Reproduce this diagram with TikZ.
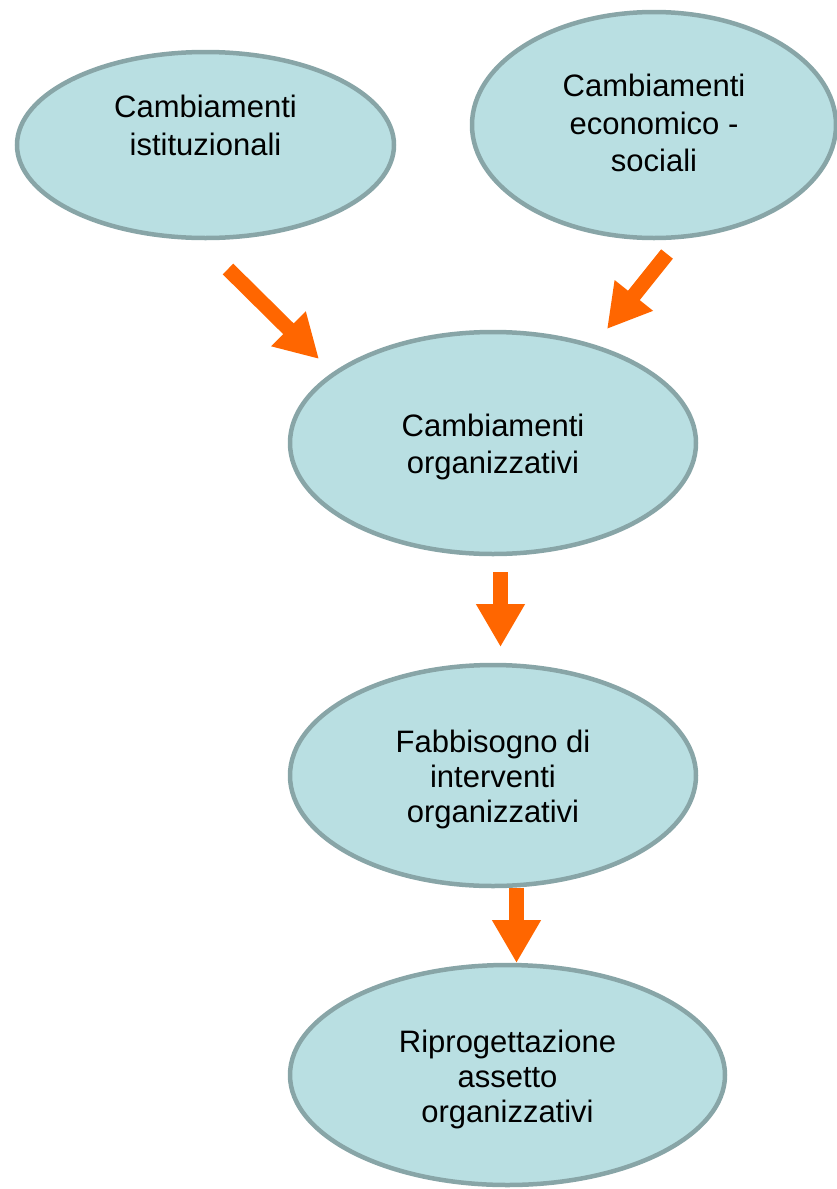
\documentclass[tikz,border=0pt]{standalone}
\usepackage{fontspec}
\setmainfont{Liberation Sans}
\usetikzlibrary{shapes.geometric,arrows.meta}
\definecolor{cellfill}{HTML}{B9DFE2}
\definecolor{celledge}{HTML}{88A5A7}
\definecolor{flow}{HTML}{FF6600}
\begin{document}
\begin{tikzpicture}[x=1pt,y=-1pt,
  cell/.style={ellipse,draw=celledge,fill=cellfill,line width=4.5pt,inner sep=0pt},
  celltext/.style={inner sep=0pt,align=center,font=\fontsize{31}{#1}\selectfont},
  celltext/.default=37.5,
  flowarrow/.style={draw=flow,line width=15pt,
    -{Triangle[length=43pt,width=46pt]}}]
  \useasboundingbox (0,0) rectangle (836,1189);
  % the five stages
  \node[cell,minimum width=377pt,minimum height=186pt] (ist) at (205.5,145) {};
  \node[cell,minimum width=364pt,minimum height=226pt] (eco) at (654,125) {};
  \node[cell,minimum width=406pt,minimum height=222pt] (org) at (493,443) {};
  \node[cell,minimum width=406pt,minimum height=221pt] (fab) at (493,775.5) {};
  \node[cell,minimum width=435pt,minimum height=220pt] (rip) at (507.5,1075) {};
  % their texts
  \node[celltext=38] (istt) at ([yshift=20pt]ist.center)
    {Cambiamenti\\istituzionali};
  \node[celltext=37.5] (ecot) at ([yshift=2pt]eco.center)
    {Cambiamenti\\economico -\\sociali};
  \node[celltext=37] (orgt) at ([yshift=-3.5pt]org.center)
    {Cambiamenti\\organizzativi};
  \node[celltext=35] (fabt) at ([yshift=-3.5pt]fab.center)
    {Fabbisogno di\\interventi\\organizzativi};
  \node[celltext=35] (ript) at ([yshift=-4pt]rip.center)
    {Riprogettazione\\assetto\\organizzativi};
  % arrow end points between the stages
  \coordinate (a1s) at (228,269);
  \coordinate (a1e) at (319,359);
  \coordinate (a2s) at (667,254);
  \coordinate (a2e) at (607,329);
  \coordinate (a3s) at (500.5,572);
  \coordinate (a3e) at (500.5,647);
  \coordinate (a4s) at (516.5,888);
  \coordinate (a4e) at (516.5,963);
  \draw[flowarrow] (a1s) -- (a1e);
  \draw[flowarrow] (a2s) -- (a2e);
  \draw[flowarrow] (a3s) -- (a3e);
  \draw[flowarrow] (a4s) -- (a4e);
\end{tikzpicture}
\end{document}
